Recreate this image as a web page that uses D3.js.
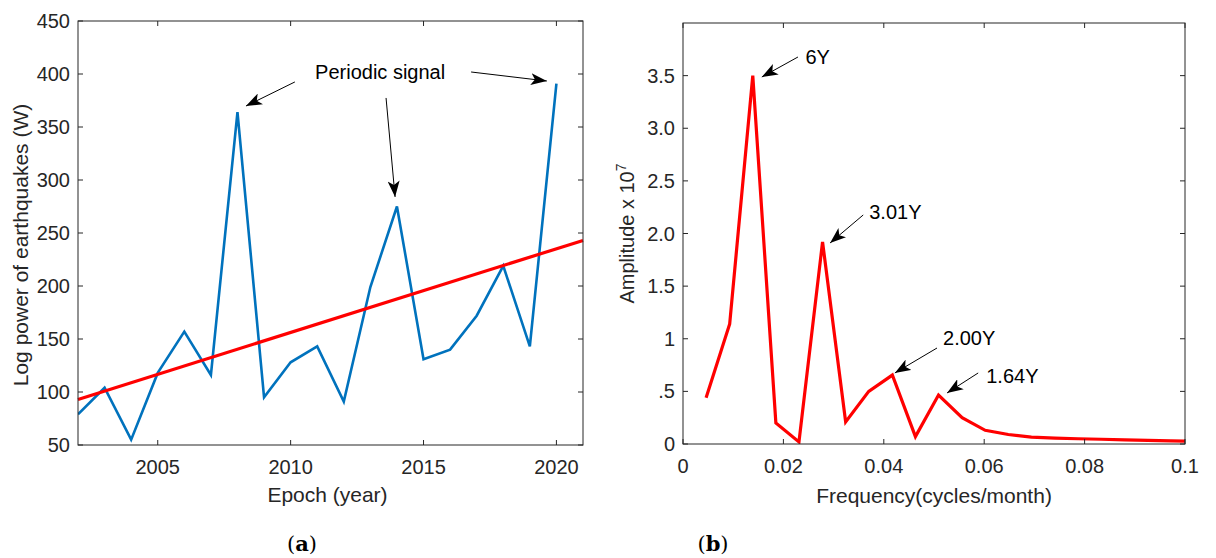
<!DOCTYPE html>
<meta charset="utf-8">
<script src="https://d3js.org/d3.v7.min.js"></script>
<style>
  body { margin: 0; background: #fff; }
</style>
<div id="my_dataviz"></div>
<script>

// ---- data (a): yearly log power + linear trend
let years = [2002, 2003, 2004, 2005, 2006, 2007, 2008, 2009, 2010, 2011, 2012, 2013, 2014, 2015, 2016, 2017, 2018, 2019, 2020];
let logPower = [79, 104, 55, 118, 157, 116, 364, 95, 128, 143, 91, 199, 275, 131, 140, 172, 219, 143, 391];
let trendYears = [2002, 2021];
let trendValues = [93, 243];
let yTicksA = [50, 100, 150, 200, 250, 300, 350, 400, 450];
let xTicksA = [2005, 2010, 2015, 2020];

// ---- data (b): spectrum
let freq = [0.0046, 0.0093, 0.0139, 0.0185, 0.0231, 0.0278, 0.0324, 0.0370, 0.0417, 0.0463, 0.0509, 0.0556, 0.0602, 0.0648, 0.0694, 0.0741, 0.0787, 0.0833, 0.0880, 0.0926, 0.0972, 0.1019];
let amplitude = [0.44, 1.14, 3.5, 0.2, 0.02, 1.92, 0.21, 0.5, 0.655, 0.07, 0.465, 0.25, 0.13, 0.09, 0.065, 0.055, 0.05, 0.045, 0.04, 0.035, 0.03, 0.025];
let yTicksB = [0, 0.5, 1, 1.5, 2, 2.5, 3, 3.5];
let yTickLabelsB = ["0", ".5", "1", "1.5", "2.0", "2.5", "3.0", "3.5"];
let xTicksB = [0, 0.02, 0.04, 0.06, 0.08, 0.1];
let xTickLabelsB = ["0", "0.02", "0.04", "0.06", "0.08", "0.1"];

// annotations: label position, arrow start, arrow tip (data coords)
let notesA = [
  {from: [2010.16, 392.5], to: [2008.32, 369.8]},
  {from: [2013.59, 377.4], to: [2013.93, 284]},
  {from: [2016.79, 401.9], to: [2019.64, 393.4]}
];
let labelA = {text: "Periodic signal", at: [2010.92, 401.9]};
let notesB = [
  {text: "6Y",    at: [0.0244, 3.677], from: [0.0229, 3.677], to: [0.0157, 3.487]},
  {text: "3.01Y", at: [0.0371, 2.204], from: [0.0359, 2.176], to: [0.0293, 1.91]},
  {text: "2.00Y", at: [0.0518, 1.007], from: [0.0506, 0.912], to: [0.0422, 0.675]},
  {text: "1.64Y", at: [0.0604, 0.646], from: [0.0588, 0.675], to: [0.0526, 0.485]}
];

let axisColor = "#262626";
let sans = "Arial, 'Liberation Sans', sans-serif";
let fs = 20;      // ticks + notes
let fsLab = 21;   // axis titles

let svg = d3.select("#my_dataviz")
  .append("svg")
    .attr("width", 1216)
    .attr("height", 558)
    .style("font-family", sans);

// arrow head like matlab annotation
svg.append("defs").append("marker")
    .attr("id", "head")
    .attr("viewBox", "0 -6 16 12")
    .attr("refX", 16).attr("refY", 0)
    .attr("markerWidth", 16).attr("markerHeight", 12)
    .attr("markerUnits", "userSpaceOnUse")
    .attr("orient", "auto")
  .append("path")
    .attr("d", "M0,-6 L16,0 L0,6 L4,0 Z")
    .attr("fill", "#000");

// draw box + inside ticks on all four sides
function frame(g, x, y, xt, xl, yt, yl, w, h) {
  g.append("rect").attr("width", w).attr("height", h)
    .attr("fill", "none").attr("stroke", axisColor).attr("stroke-width", 1);
  let tl = 5;
  xt.forEach(function(t, i) {
    g.append("line").attr("x1", x(t)).attr("x2", x(t)).attr("y1", h).attr("y2", h - tl).attr("stroke", axisColor);
    g.append("line").attr("x1", x(t)).attr("x2", x(t)).attr("y1", 0).attr("y2", tl).attr("stroke", axisColor);
    g.append("text").attr("x", x(t)).attr("y", h + 29)
      .attr("text-anchor", "middle").attr("font-size", fs).attr("fill", axisColor)
      .text(xl[i]);
  });
  yt.forEach(function(t, i) {
    g.append("line").attr("x1", 0).attr("x2", tl).attr("y1", y(t)).attr("y2", y(t)).attr("stroke", axisColor);
    g.append("line").attr("x1", w).attr("x2", w - tl).attr("y1", y(t)).attr("y2", y(t)).attr("stroke", axisColor);
    g.append("text").attr("x", -8).attr("y", y(t)).attr("dy", "0.35em")
      .attr("text-anchor", "end").attr("font-size", fs).attr("fill", axisColor)
      .text(yl[i]);
  });
}

// ================= (a) =================
let wA = 505, hA = 424;
let gA = svg.append("g").attr("transform", "translate(78,21)");
let xA = d3.scaleLinear().domain([2002, 2021]).range([0, wA]);
let yA = d3.scaleLinear().domain([50, 450]).range([hA, 0]);

gA.append("clipPath").attr("id", "clipA").append("rect").attr("width", wA).attr("height", hA);

gA.append("path")
  .datum(years.map(function(d, i) { return [d, logPower[i]]; }))
  .attr("clip-path", "url(#clipA)")
  .attr("fill", "none").attr("stroke", "#0072BD").attr("stroke-width", 2.6)
  .attr("d", d3.line().x(function(d) { return xA(d[0]); }).y(function(d) { return yA(d[1]); }));

gA.append("path")
  .datum(trendYears.map(function(d, i) { return [d, trendValues[i]]; }))
  .attr("fill", "none").attr("stroke", "#FF0000").attr("stroke-width", 3.2)
  .attr("d", d3.line().x(function(d) { return xA(d[0]); }).y(function(d) { return yA(d[1]); }));

frame(gA, xA, yA, xTicksA, xTicksA.map(String), yTicksA, yTicksA.map(String), wA, hA);

gA.append("text").attr("x", xA(labelA.at[0])).attr("y", yA(labelA.at[1])).attr("dy", "0.35em")
  .attr("font-size", fs).text(labelA.text);
notesA.forEach(function(n) {
  gA.append("line")
    .attr("x1", xA(n.from[0])).attr("y1", yA(n.from[1]))
    .attr("x2", xA(n.to[0])).attr("y2", yA(n.to[1]))
    .attr("stroke", "#000").attr("stroke-width", 1).attr("marker-end", "url(#head)");
});

gA.append("text").attr("x", wA / 2 - 3).attr("y", hA + 57)
  .attr("text-anchor", "middle").attr("font-size", fsLab).attr("fill", axisColor)
  .text("Epoch (year)");
gA.append("text").attr("transform", "translate(-50," + (hA / 2 + 12) + ") rotate(-90)")
  .attr("text-anchor", "middle").attr("font-size", fsLab).attr("fill", axisColor)
  .text("Log power of earthquakes (W)");

// ================= (b) =================
let wB = 502, hB = 421;
let gB = svg.append("g").attr("transform", "translate(683,23)");
let xB = d3.scaleLinear().domain([0, 0.1]).range([0, wB]);
let yB = d3.scaleLinear().domain([0, 4]).range([hB, 0]);

gB.append("clipPath").attr("id", "clipB").append("rect").attr("width", wB).attr("height", hB);

gB.append("path")
  .datum(freq.map(function(d, i) { return [d, amplitude[i]]; }))
  .attr("clip-path", "url(#clipB)")
  .attr("fill", "none").attr("stroke", "#FF0000").attr("stroke-width", 3.2)
  .attr("d", d3.line().x(function(d) { return xB(d[0]); }).y(function(d) { return yB(d[1]); }));

frame(gB, xB, yB, xTicksB, xTickLabelsB, yTicksB, yTickLabelsB, wB, hB);

notesB.forEach(function(n) {
  gB.append("line")
    .attr("x1", xB(n.from[0])).attr("y1", yB(n.from[1]))
    .attr("x2", xB(n.to[0])).attr("y2", yB(n.to[1]))
    .attr("stroke", "#000").attr("stroke-width", 1).attr("marker-end", "url(#head)");
  gB.append("text").attr("x", xB(n.at[0])).attr("y", yB(n.at[1])).attr("dy", "0.35em")
    .attr("font-size", fs).text(n.text);
});

gB.append("text").attr("x", wB / 2).attr("y", hB + 59)
  .attr("text-anchor", "middle").attr("font-size", fsLab).attr("fill", axisColor)
  .text("Frequency(cycles/month)");
let yl = gB.append("text").attr("transform", "translate(-49," + (hB / 2) + ") rotate(-90)")
  .attr("text-anchor", "middle").attr("font-size", 20).attr("fill", axisColor);
yl.append("tspan").text("Amplitude x 10");
yl.append("tspan").attr("dy", "-0.55em").attr("font-size", 14).text("7");

// panel captions
let serif = "'DejaVu Serif', 'Liberation Serif', serif";
[["a", 302], ["b", 713]].forEach(function(c) {
  let t = svg.append("text").attr("x", c[1]).attr("y", 551).attr("text-anchor", "middle")
    .style("font-family", serif).attr("font-size", 21).attr("fill", "#000");
  t.append("tspan").text("(");
  t.append("tspan").attr("font-weight", "bold").text(c[0]);
  t.append("tspan").text(")");
});

</script>
